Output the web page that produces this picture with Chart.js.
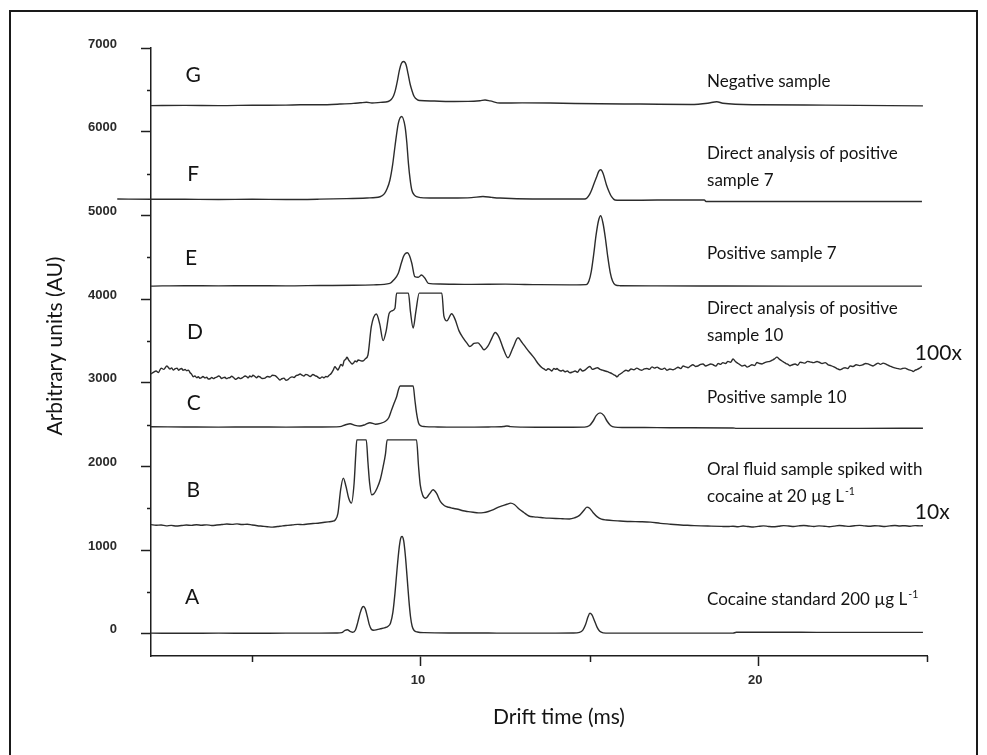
<!DOCTYPE html>
<html>
<head>
<meta charset="utf-8">
<script src="https://cdn.jsdelivr.net/npm/chart.js@4.4.1/dist/chart.umd.min.js"></script>
<style>
  html, body { margin: 0; padding: 0; background: #fff; }
  canvas { display: block; }
</style>
</head>
<body>
<canvas id="chart" width="987" height="755"></canvas>
<script>
// Ion mobility spectra, stacked with vertical offsets: [drift time (ms), intensity (AU)]
const specA = [[2.0,8],[3.0,6],[4.0,8],[5.0,7],[6.0,8],[7.0,8],[7.5,10],[7.65,14],[7.75,40],[7.82,48],[7.9,30],[7.98,18],[8.06,45],[8.13,140],[8.2,250],[8.26,315],[8.3,326],[8.35,300],[8.41,210],[8.47,110],[8.53,55],[8.6,42],[8.7,50],[8.8,60],[8.92,72],[9.02,88],[9.1,130],[9.17,260],[9.23,480],[9.29,760],[9.35,1010],[9.4,1140],[9.44,1163],[9.49,1110],[9.54,930],[9.59,680],[9.64,420],[9.69,210],[9.74,90],[9.8,40],[9.9,22],[10.1,14],[11.0,10],[12.0,9],[13.0,8],[14.0,8],[14.5,10],[14.7,18],[14.8,45],[14.88,110],[14.95,200],[15.01,247],[15.07,225],[15.14,160],[15.22,80],[15.3,30],[15.4,12],[15.6,8],[17.0,8],[19.25,8],[19.35,18],[21.0,18],[23.0,17],[24.88,17]];

const specB = [[2.0,1305],[2.15,1298],[2.3,1300],[2.45,1290],[2.6,1296],[2.75,1288],[2.9,1294],[3.05,1300],[3.2,1296],[3.35,1304],[3.5,1298],[3.65,1302],[3.8,1295],[3.95,1300],[4.1,1306],[4.25,1312],[4.4,1308],[4.55,1314],[4.7,1306],[4.85,1310],[5.0,1300],[5.15,1292],[5.3,1286],[5.45,1280],[5.6,1275],[5.75,1282],[5.9,1290],[6.05,1296],[6.2,1302],[6.35,1308],[6.5,1305],[6.65,1312],[6.8,1318],[6.95,1322],[7.1,1330],[7.25,1338],[7.38,1345],[7.46,1360],[7.54,1440],[7.62,1720],[7.7,1861],[7.78,1760],[7.86,1620],[7.94,1562],[8.02,1800],[8.07,2150],[8.1,2318],[8.38,2318],[8.43,2050],[8.48,1800],[8.54,1662],[8.6,1670],[8.7,1740],[8.8,1850],[8.88,1997],[8.95,2150],[9.0,2318],[9.87,2318],[9.93,2000],[9.98,1780],[10.05,1660],[10.14,1620],[10.25,1670],[10.36,1721],[10.46,1680],[10.58,1580],[10.7,1530],[10.82,1512],[10.95,1500],[11.1,1488],[11.25,1470],[11.4,1460],[11.55,1452],[11.7,1445],[11.85,1448],[12.0,1462],[12.15,1485],[12.3,1515],[12.45,1535],[12.55,1548],[12.66,1562],[12.77,1545],[12.9,1495],[13.05,1450],[13.2,1408],[13.35,1398],[13.5,1392],[13.65,1386],[13.8,1382],[14.0,1378],[14.2,1375],[14.4,1372],[14.55,1385],[14.7,1415],[14.82,1470],[14.92,1514],[15.0,1500],[15.1,1450],[15.22,1400],[15.35,1370],[15.5,1360],[15.7,1352],[15.9,1348],[16.2,1342],[16.5,1340],[16.8,1335],[17.1,1320],[17.4,1310],[17.7,1300],[18.0,1295],[18.3,1290],[18.6,1287],[18.9,1284],[19.1,1282],[19.25,1286],[19.4,1280],[19.55,1288],[19.7,1282],[19.85,1276],[20.0,1284],[20.15,1290],[20.3,1283],[20.45,1279],[20.6,1286],[20.75,1293],[20.9,1288],[21.05,1282],[21.2,1290],[21.35,1295],[21.5,1288],[21.65,1283],[21.8,1290],[21.95,1286],[22.1,1280],[22.25,1287],[22.4,1294],[22.55,1289],[22.7,1284],[22.85,1291],[23.0,1296],[23.15,1290],[23.3,1285],[23.45,1292],[23.6,1288],[23.75,1283],[23.9,1290],[24.05,1295],[24.2,1289],[24.35,1292],[24.5,1286],[24.65,1293],[24.8,1290],[24.88,1292]];

const specC = [[2.0,2474],[3.0,2472],[4.0,2470],[5.0,2472],[6.0,2470],[7.0,2472],[7.6,2476],[7.75,2495],[7.9,2511],[8.05,2490],[8.19,2483],[8.35,2500],[8.49,2523],[8.65,2505],[8.8,2515],[8.95,2540],[9.05,2585],[9.13,2674],[9.21,2760],[9.28,2833],[9.33,2910],[9.38,2961],[9.77,2961],[9.82,2800],[9.87,2640],[9.93,2520],[10.0,2485],[10.12,2476],[10.5,2472],[11.0,2470],[12.0,2472],[12.45,2478],[12.55,2484],[12.65,2476],[13.0,2470],[14.0,2468],[14.85,2470],[15.0,2490],[15.1,2540],[15.2,2610],[15.31,2640],[15.42,2610],[15.52,2540],[15.62,2490],[15.75,2470],[16.0,2466],[17.0,2464],[18.0,2462],[19.25,2460],[19.35,2455],[21.0,2455],[23.0,2455],[24.88,2456]];

const specD = [[2.0,3105],[2.08,3128],[2.15,3140],[2.22,3122],[2.3,3175],[2.38,3160],[2.47,3200],[2.56,3165],[2.61,3178],[2.66,3152],[2.72,3168],[2.77,3175],[2.82,3150],[2.86,3164],[2.91,3170],[2.95,3150],[3.01,3158],[3.06,3144],[3.11,3150],[3.16,3120],[3.21,3098],[3.25,3072],[3.3,3080],[3.36,3060],[3.4,3072],[3.45,3053],[3.5,3062],[3.54,3075],[3.6,3058],[3.65,3065],[3.7,3044],[3.75,3048],[3.8,3062],[3.85,3049],[3.9,3060],[3.96,3070],[4.0,3080],[4.05,3072],[4.09,3050],[4.13,3058],[4.19,3066],[4.24,3049],[4.29,3058],[4.34,3062],[4.39,3078],[4.44,3065],[4.5,3042],[4.55,3050],[4.6,3062],[4.64,3049],[4.69,3055],[4.73,3066],[4.79,3080],[4.84,3072],[4.88,3058],[4.93,3080],[4.98,3070],[5.02,3089],[5.08,3075],[5.13,3060],[5.18,3078],[5.23,3070],[5.3,3050],[5.38,3055],[5.45,3075],[5.53,3068],[5.6,3090],[5.68,3085],[5.75,3060],[5.82,3033],[5.88,3048],[5.94,3055],[6.0,3030],[6.06,3038],[6.12,3060],[6.18,3070],[6.24,3062],[6.3,3085],[6.36,3092],[6.42,3105],[6.48,3090],[6.53,3080],[6.59,3100],[6.65,3092],[6.72,3075],[6.8,3098],[6.86,3085],[6.92,3075],[6.97,3060],[7.01,3053],[7.07,3070],[7.13,3060],[7.18,3075],[7.22,3070],[7.28,3090],[7.34,3110],[7.4,3150],[7.45,3192],[7.5,3170],[7.54,3152],[7.58,3180],[7.63,3220],[7.68,3200],[7.72,3260],[7.77,3280],[7.81,3304],[7.86,3270],[7.9,3250],[7.96,3224],[8.01,3240],[8.05,3260],[8.1,3250],[8.14,3272],[8.22,3262],[8.28,3260],[8.36,3290],[8.43,3332],[8.53,3670],[8.68,3822],[8.78,3700],[8.88,3503],[8.97,3620],[9.06,3830],[9.15,3860],[9.23,3889],[9.28,4071],[9.63,4071],[9.69,3850],[9.77,3653],[9.85,3850],[9.95,4071],[10.62,4071],[10.68,3800],[10.77,3740],[10.91,3824],[11.01,3760],[11.13,3620],[11.25,3537],[11.37,3470],[11.45,3433],[11.57,3470],[11.69,3477],[11.78,3440],[11.87,3394],[11.99,3440],[12.11,3540],[12.2,3600],[12.32,3540],[12.43,3420],[12.58,3298],[12.73,3420],[12.88,3537],[13.0,3480],[13.11,3420],[13.23,3358],[13.35,3300],[13.47,3230],[13.59,3179],[13.65,3165],[13.71,3150],[13.77,3168],[13.83,3155],[13.88,3140],[13.94,3170],[14.0,3160],[14.03,3170],[14.09,3150],[14.15,3140],[14.21,3150],[14.27,3130],[14.34,3140],[14.42,3119],[14.5,3130],[14.57,3140],[14.64,3125],[14.72,3165],[14.79,3140],[14.86,3150],[14.93,3175],[15.01,3195],[15.08,3160],[15.16,3170],[15.23,3180],[15.31,3160],[15.38,3150],[15.46,3140],[15.53,3132],[15.6,3120],[15.66,3110],[15.72,3095],[15.77,3085],[15.81,3070],[15.87,3095],[15.93,3110],[16.0,3132],[16.08,3150],[16.15,3140],[16.23,3165],[16.31,3155],[16.4,3175],[16.47,3160],[16.55,3150],[16.62,3165],[16.7,3170],[16.77,3160],[16.85,3190],[16.92,3175],[17.0,3187],[17.07,3170],[17.15,3160],[17.22,3175],[17.29,3150],[17.38,3165],[17.47,3155],[17.55,3170],[17.62,3185],[17.7,3170],[17.77,3200],[17.85,3190],[17.92,3180],[17.99,3200],[18.06,3215],[18.14,3195],[18.21,3200],[18.29,3220],[18.36,3225],[18.44,3200],[18.51,3210],[18.59,3225],[18.66,3215],[18.74,3200],[18.81,3230],[18.88,3220],[18.95,3240],[19.03,3230],[19.1,3255],[19.18,3245],[19.25,3283],[19.33,3250],[19.4,3230],[19.46,3215],[19.52,3200],[19.6,3210],[19.67,3187],[19.74,3200],[19.81,3215],[19.89,3205],[19.96,3242],[20.04,3230],[20.11,3225],[20.19,3240],[20.26,3250],[20.34,3255],[20.41,3270],[20.48,3285],[20.55,3306],[20.63,3280],[20.7,3260],[20.76,3245],[20.82,3230],[20.88,3220],[20.94,3203],[21.01,3215],[21.09,3225],[21.17,3210],[21.24,3245],[21.31,3240],[21.38,3235],[21.46,3255],[21.53,3250],[21.63,3240],[21.74,3254],[21.81,3245],[21.89,3230],[21.98,3240],[22.07,3215],[22.15,3205],[22.24,3190],[22.33,3170],[22.42,3155],[22.5,3170],[22.57,3180],[22.65,3170],[22.72,3200],[22.81,3195],[22.9,3215],[23.0,3205],[23.1,3215],[23.18,3230],[23.25,3225],[23.33,3210],[23.4,3200],[23.48,3220],[23.55,3235],[23.62,3220],[23.7,3235],[23.77,3225],[23.84,3210],[23.93,3195],[24.02,3180],[24.11,3172],[24.2,3163],[24.27,3170],[24.35,3175],[24.43,3160],[24.5,3150],[24.55,3145],[24.59,3135],[24.65,3150],[24.71,3160],[24.78,3175],[24.85,3195]];

const specE = [[2.0,4155],[3.0,4160],[4.0,4158],[5.0,4160],[6.0,4158],[7.0,4162],[8.0,4165],[8.6,4170],[9.08,4188],[9.2,4230],[9.33,4308],[9.42,4430],[9.48,4506],[9.54,4545],[9.6,4554],[9.66,4520],[9.73,4428],[9.82,4267],[9.92,4260],[10.02,4288],[10.12,4248],[10.22,4188],[10.57,4180],[11.5,4175],[12.5,4178],[13.5,4172],[14.5,4170],[14.9,4172],[14.98,4215],[15.05,4330],[15.12,4530],[15.19,4760],[15.26,4930],[15.33,4995],[15.4,4900],[15.47,4720],[15.54,4500],[15.61,4320],[15.68,4215],[15.76,4170],[15.9,4160],[17.0,4158],[19.0,4156],[21.0,4155],[23.0,4155],[24.85,4155]];

const specF = [[1.0,5195],[2.0,5193],[3.0,5192],[4.0,5190],[5.0,5192],[6.0,5190],[7.0,5194],[7.8,5200],[8.4,5208],[8.79,5223],[8.92,5260],[9.0,5320],[9.08,5420],[9.16,5600],[9.23,5820],[9.33,6100],[9.43,6182],[9.53,6060],[9.58,5880],[9.63,5622],[9.68,5430],[9.73,5303],[9.8,5245],[9.87,5223],[10.0,5212],[10.4,5207],[10.9,5207],[11.5,5212],[11.84,5226],[12.1,5215],[12.34,5207],[13.3,5195],[14.0,5196],[14.8,5195],[14.91,5204],[15.0,5250],[15.06,5303],[15.14,5390],[15.21,5462],[15.27,5525],[15.33,5545],[15.4,5500],[15.5,5364],[15.58,5280],[15.65,5223],[15.75,5184],[15.9,5180],[17.0,5183],[18.4,5184],[18.45,5166],[20.0,5165],[22.0,5165],[24.85,5166]];

const specG = [[2.0,6311],[3.0,6314],[4.0,6312],[5.0,6316],[6.0,6318],[6.42,6321],[7.0,6322],[7.6,6330],[8.0,6338],[8.2,6345],[8.39,6352],[8.55,6342],[8.8,6350],[9.03,6361],[9.12,6385],[9.19,6430],[9.24,6490],[9.3,6600],[9.36,6730],[9.42,6815],[9.49,6838],[9.56,6800],[9.62,6690],[9.68,6570],[9.73,6498],[9.8,6420],[9.9,6380],[9.97,6373],[10.4,6366],[10.86,6361],[11.4,6362],[11.75,6370],[11.9,6378],[12.05,6368],[12.34,6342],[13.0,6344],[13.83,6342],[15.3,6333],[16.5,6330],[18.0,6325],[18.5,6340],[18.77,6358],[18.95,6340],[20.0,6322],[22.0,6318],[24.88,6308]];

// axis ranges and tick positions
const xRange = [2, 25];
const yRange = [-265, 7000];
const xMajorTicks = [10, 20];
const yMajorTicks = [0, 1000, 2000, 3000, 4000, 5000, 6000, 7000];
const xMinorTicks = [5, 15, 25];
const yMinorTicks = [500, 1500, 2500, 3500, 4500, 5500, 6500];

// trace letters, placed in data space [text, time, intensity]
const traceLetters = [['G',3.25,6677],['F',3.25,5494],['E',3.19,4490],['D',3.3,3606],['C',3.27,2757],['B',3.25,1718],['A',3.22,440]];

// sample descriptions [text, superscript, time, intensity]
const descriptions = [
  ['Negative sample','',18.48,6594],
  ['Direct analysis of positive','',18.48,5745],
  ['sample 7','',18.48,5422],
  ['Positive sample 7','',18.48,4550],
  ['Direct analysis of positive','',18.48,3893],
  ['sample 10','',18.48,3570],
  ['Positive sample 10','',18.48,2818],
  ['Oral fluid sample spiked with','',18.48,1958],
  ['cocaine at 20 \u00b5g L','-1',18.48,1635],
  ['Cocaine standard 200 \u00b5g L','-1',18.48,404]
];

// magnification factors [text, time, intensity]
const scaleNotes = [['100x',24.64,3356],['10x',24.64,1456]];

const axisColor = '#1e1e1e';
const traceColor = '#2c2c2c';

function trace(label, pts, extra) {
  return Object.assign({
    label: label,
    data: pts.map(p => ({x: p[0], y: p[1]})),
    borderColor: traceColor,
    borderWidth: 1.4,
    pointRadius: 0,
    fill: false,
    cubicInterpolationMode: 'monotone'
  }, extra || {});
}

const pageBackground = {
  id: 'pageBackground',
  beforeDraw(chart) {
    const ctx = chart.ctx;
    ctx.save();
    ctx.fillStyle = '#fff';
    ctx.fillRect(0, 0, chart.width, chart.height);
    ctx.restore();
  }
};

const minorTickMarks = {
  id: 'minorTickMarks',
  afterDraw(chart) {
    const {ctx, scales: {x, y}} = chart;
    ctx.save();
    ctx.strokeStyle = axisColor;
    ctx.lineWidth = 1.5;
    yMinorTicks.forEach(v => {
      const py = Math.round(y.getPixelForValue(v)) + 0.5;
      ctx.beginPath(); ctx.moveTo(x.left - 4, py); ctx.lineTo(x.left, py); ctx.stroke();
    });
    xMinorTicks.forEach(t => {
      const px = Math.round(x.getPixelForValue(t)) + 0.5;
      ctx.beginPath(); ctx.moveTo(px, y.bottom); ctx.lineTo(px, y.bottom + 6); ctx.stroke();
    });
    ctx.restore();
  }
};

const figureText = {
  id: 'figureText',
  afterDraw(chart) {
    const {ctx, scales: {x, y}} = chart;
    ctx.save();
    ctx.fillStyle = '#141414';
    ctx.textBaseline = 'middle';

    ctx.textAlign = 'center';
    ctx.font = '21px Lato';
    traceLetters.forEach(([txt, t, v]) => ctx.fillText(txt, x.getPixelForValue(t), y.getPixelForValue(v)));

    ctx.textAlign = 'left';
    descriptions.forEach(([txt, sup, t, v]) => {
      const px = x.getPixelForValue(t), py = y.getPixelForValue(v);
      ctx.font = '17px Lato';
      ctx.fillText(txt, px, py);
      if (sup) {
        const w = ctx.measureText(txt).width;
        ctx.font = '10.5px Lato';
        ctx.fillText(sup, px + w + 1, py - 5);
      }
    });

    ctx.font = '21px Lato';
    scaleNotes.forEach(([txt, t, v]) => ctx.fillText(txt, x.getPixelForValue(t), y.getPixelForValue(v)));

    // axis titles
    ctx.font = '21px Lato';
    ctx.textAlign = 'center';
    ctx.fillText('Drift time (ms)', 559, 717);
    ctx.translate(55, 346);
    ctx.rotate(-Math.PI / 2);
    ctx.fillText('Arbitrary units (AU)', 0, 0);
    ctx.restore();

    // frame around the figure
    ctx.save();
    ctx.strokeStyle = '#1a1a1a';
    ctx.lineWidth = 2;
    ctx.strokeRect(10, 11, 967, 760);
    ctx.restore();
  }
};

const tickFont = {family: 'Liberation Sans', size: 13, weight: 'bold'};

new Chart(document.getElementById('chart'), {
  type: 'line',
  data: {
    datasets: [
      trace('A', specA),
      trace('B', specB),
      trace('C', specC),
      trace('D', specD),
      trace('E', specE),
      trace('F', specF, {clip: false}),
      trace('G', specG)
    ]
  },
  options: {
    responsive: false,
    animation: false,
    devicePixelRatio: 1,
    layout: {padding: {top: 48, right: 60, left: 0, bottom: 0}},
    plugins: {legend: {display: false}, tooltip: {enabled: false}},
    scales: {
      x: {
        type: 'linear',
        position: 'bottom',
        min: xRange[0],
        max: xRange[1],
        border: {color: axisColor, width: 1.5},
        grid: {drawOnChartArea: false, tickLength: 10, tickColor: axisColor, tickWidth: 1.5},
        ticks: {padding: 7, labelOffset: -3, color: '#2a2a2a', font: tickFont, maxRotation: 0, autoSkip: false, callback: v => String(v)},
        afterBuildTicks(scale) { scale.ticks = xMajorTicks.map(v => ({value: v})); },
        afterFit(scale) { scale.height = 99; }
      },
      y: {
        type: 'linear',
        position: 'left',
        min: yRange[0],
        max: yRange[1],
        border: {color: axisColor, width: 1.5},
        grid: {drawOnChartArea: false, tickLength: 10, tickColor: axisColor, tickWidth: 1.5},
        ticks: {padding: 24, labelOffset: -4, color: '#2a2a2a', font: tickFont, autoSkip: false, callback: v => String(v)},
        afterBuildTicks(scale) { scale.ticks = yMajorTicks.map(v => ({value: v})); },
        afterFit(scale) { scale.width = 151; }
      }
    }
  },
  plugins: [pageBackground, minorTickMarks, figureText]
});
</script>
</body>
</html>
